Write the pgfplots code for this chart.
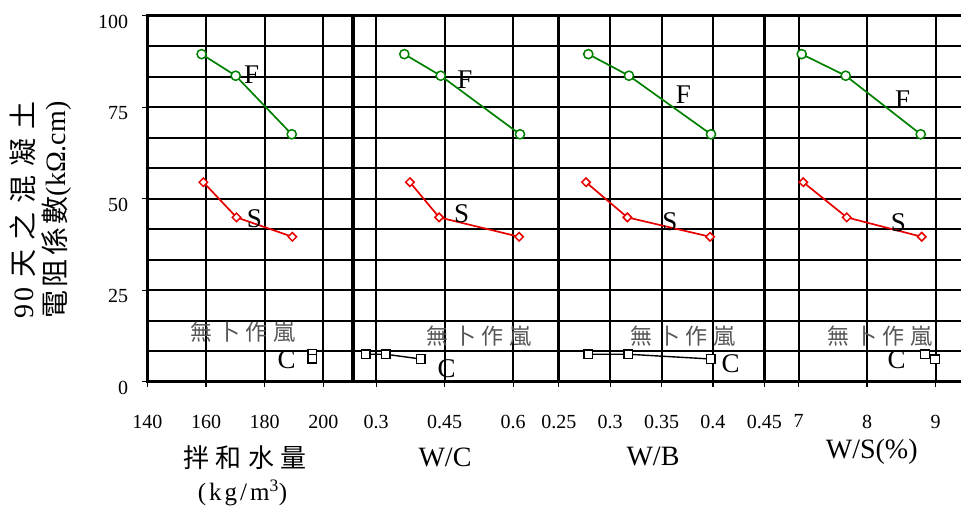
\documentclass[border=0pt]{standalone}
\usepackage{pgfplots}
\pgfplotsset{compat=1.18}
\usepackage{fontspec}
\setmainfont{Liberation Serif}
\newfontfamily\cjkA[LetterSpace=32]{Noto Sans CJK TC}
\newfontfamily\cjkB[LetterSpace=12]{Noto Sans CJK TC}
\newfontfamily\cjkC[LetterSpace=25]{Noto Sans CJK TC}
\newfontfamily\lsp[LetterSpace=12]{Liberation Serif}
\definecolor{fgreen}{RGB}{0,128,0}
\definecolor{sred}{RGB}{230,0,0}
\definecolor{ngray}{RGB}{85,85,85}
\pgfplotsset{
  panel/.style={
    scale only axis, width=205.5pt, height=366pt, anchor=south west,
    ymin=0, ymax=100, ytick={0,25,50,75,100}, minor y tick num=2,
    grid=both,
    major grid style={black, line width=2pt},
    minor grid style={black, line width=2pt},
    axis line style={black, line width=3pt},
    every tick/.style={black, line width=1.2pt},
    tick align=outside, major tick length=5pt, minor tick length=0pt,
    tick pos=left,
    clip=false,
    xticklabel style={font=\fontsize{20}{20}\selectfont, inner sep=0pt, yshift=-28pt},
    yticklabel style={font=\fontsize{20}{20}\selectfont, inner sep=0pt, xshift=-14pt, yshift=-6pt},
    yticklabels={,,,,},
  },
  fline/.style={fgreen, line width=1.7pt, mark=*, mark size=4.6pt,
    mark options={solid, fill=white, draw=fgreen, line width=1.5pt}},
  sline/.style={sred, line width=1.7pt, mark=square*, mark size=3pt,
    mark options={solid, rotate=45, fill=white, draw=sred, line width=1.5pt}},
  cline/.style={black, line width=1.4pt, mark=square*, mark size=4.3pt,
    mark options={solid, fill=white, draw=black, line width=1.5pt}},
}
\begin{document}
\begin{tikzpicture}
\path[use as bounding box] (0pt,0pt) rectangle (961pt,507pt);

% Panel 1: mixing water
\begin{axis}[panel, at={(147.3pt,125.3pt)}, xmin=140, xmax=210,
  xtick={140,160,180,200}, xticklabels={140,160,180,200},
  yticklabels={0,25,50,75,100}]
\addplot[fline] coordinates {(158.5,89.5) (170.1,83.6) (189.2,67.6)};
\addplot[sline] coordinates {(159.1,54.5) (170.4,44.9) (189.4,39.6)};
\addplot[cline] coordinates {(196.2,7.6) (196.2,7.6) (196.2,6.3)};
\end{axis}

% Panel 2: W/C
\begin{axis}[panel, at={(353.3pt,125.3pt)}, xmin=0.25, xmax=0.7,
  xtick={0.3,0.45,0.6}, xticklabels={0.3,0.45,0.6}]
\addplot[fline] coordinates {(0.3617,89.5) (0.4414,83.6) (0.615,67.6)};
\addplot[sline] coordinates {(0.374,54.5) (0.438,44.9) (0.613,39.6)};
\addplot[cline] coordinates {(0.277,7.5) (0.321,7.5) (0.398,6.2)};
\end{axis}

% Panel 3: W/B
\begin{axis}[panel, at={(558.8pt,125.3pt)}, xmin=0.25, xmax=0.45,
  xtick={0.25,0.3,0.35,0.4,0.45}, xticklabels={0.25,0.3,0.35,0.4,0.45}]
\addplot[fline] coordinates {(0.2787,89.5) (0.3183,83.6) (0.3981,67.6)};
\addplot[sline] coordinates {(0.2765,54.5) (0.3167,44.9) (0.3972,39.6)};
\addplot[cline] coordinates {(0.2787,7.5) (0.3176,7.5) (0.398,6.2)};
\end{axis}

% Panel 4: W/S
\begin{axis}[panel, at={(764.3pt,125.3pt)}, xmin=6.5, xmax=9.5,
  xtick={7,8,9}, xticklabels={7,8,9}]
\addplot[fline] coordinates {(7.046,89.5) (7.688,83.6) (8.783,67.6)};
\addplot[sline] coordinates {(7.069,54.5) (7.703,44.9) (8.798,39.6)};
\addplot[cline] coordinates {(8.846,7.5) (8.846,7.5) (8.992,6.1)};
\end{axis}

% series labels
\begin{scope}[x=1pt, y=1pt, every node/.style={font=\fontsize{27}{27}\selectfont, inner sep=0pt}]
\node at (251.7,432) {F};
\node at (254.3,288.7) {S};
\node at (286.7,147) {C};
\node at (465,427) {F};
\node at (461.7,293.7) {S};
\node at (446.7,138.7) {C};
\node at (683.3,412) {F};
\node at (670,285.3) {S};
\node at (730.7,143.7) {C};
\node at (902.7,407) {F};
\node at (898.3,284.3) {S};
\node at (896.7,147) {C};
\end{scope}
\begin{scope}[x=1pt, y=1pt, every node/.style={font=\fontsize{22}{22}\selectfont\cjkC, text=ngray, inner sep=0pt}]
\node at (243,174.5) {無卜作嵐};
\node at (479,171.2) {無卜作嵐};
\node at (683,171.2) {無卜作嵐};
\node at (880,171.2) {無卜作嵐};
\end{scope}

% axis titles
\begin{scope}[x=1pt, y=1pt]
\node[font=\fontsize{26}{26}\selectfont, inner sep=0pt] at (245,49.5) {\cjkC 拌和水量};
\node[font=\fontsize{25}{25}\selectfont, inner sep=0pt] at (242.5,14.5) {\lsp (kg/m\textsuperscript{3})};
\node[font=\fontsize{28}{28}\selectfont, inner sep=0pt] at (445,50) {W/C};
\node[font=\fontsize{28}{28}\selectfont, inner sep=0pt] at (653,51) {W/B};
\node[font=\fontsize{28}{28}\selectfont, inner sep=0pt] at (871.7,55) {W/S(\%)};
\node[rotate=90, align=center, inner sep=0pt, font=\fontsize{28}{32}\selectfont] at (41,297)
  {{\lsp 90 }{\cjkA 天之混凝土}\\{\cjkB 電阻係數}(kΩ.cm)};
\end{scope}
\end{tikzpicture}
\end{document}
